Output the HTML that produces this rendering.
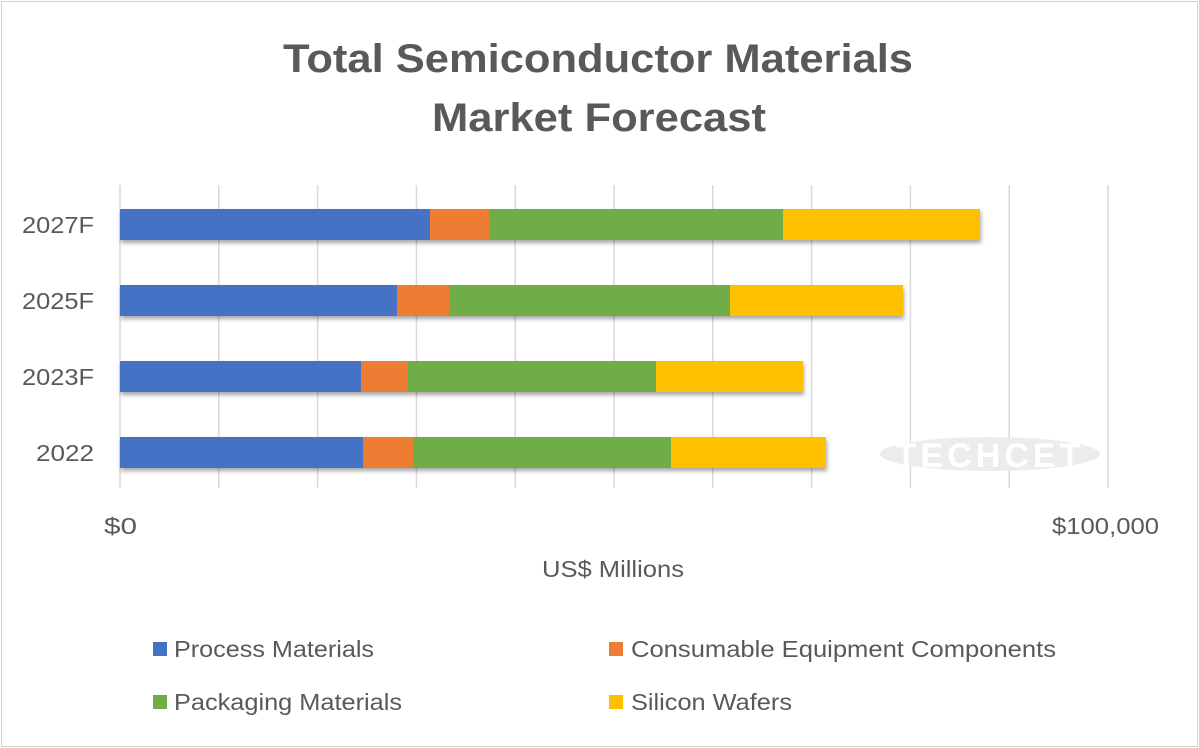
<!DOCTYPE html>
<html><head><meta charset="utf-8"><style>
html,body{margin:0;padding:0;background:#fff;}
svg{display:block;font-family:"Liberation Sans",sans-serif;}
</style></head><body>
<svg width="1199" height="748" viewBox="0 0 1199 748">
<defs>
<filter id="sh" x="-5%" y="-30%" width="110%" height="180%"><feDropShadow dx="1" dy="3" stdDeviation="2" flood-color="#000" flood-opacity="0.35"/></filter>
</defs>
<rect x="1.5" y="1.5" width="1196" height="745" fill="#fff" stroke="#d0d0d0" stroke-width="1"/>
<text x="283" y="72" font-size="40" font-weight="bold" fill="#595959" textLength="630" lengthAdjust="spacingAndGlyphs">Total Semiconductor Materials</text>
<text x="432" y="131" font-size="40" font-weight="bold" fill="#595959" textLength="334" lengthAdjust="spacingAndGlyphs">Market Forecast</text>
<g stroke="#d9d9d9" stroke-width="1.5">
<line x1="120" y1="185" x2="120" y2="488"/><line x1="218.8" y1="185" x2="218.8" y2="488"/><line x1="317.6" y1="185" x2="317.6" y2="488"/><line x1="416.4" y1="185" x2="416.4" y2="488"/><line x1="515.2" y1="185" x2="515.2" y2="488"/><line x1="614" y1="185" x2="614" y2="488"/><line x1="712.8" y1="185" x2="712.8" y2="488"/><line x1="811.6" y1="185" x2="811.6" y2="488"/><line x1="910.4" y1="185" x2="910.4" y2="488"/><line x1="1009.2" y1="185" x2="1009.2" y2="488"/><line x1="1108" y1="185" x2="1108" y2="488"/>
</g>
<ellipse cx="990" cy="454" rx="110" ry="17" fill="#ececec"/>
<text x="990" y="467" text-anchor="middle" font-size="34" font-weight="bold" fill="#fff" letter-spacing="4">TECHCET</text>
<g filter="url(#sh)">
<rect x="120" y="209" width="310" height="31" fill="#4472C4"/><rect x="430" y="209" width="59" height="31" fill="#ED7D31"/><rect x="489" y="209" width="294" height="31" fill="#70AD47"/><rect x="783" y="209" width="197" height="31" fill="#FFC000"/>
<rect x="120" y="285" width="277" height="31" fill="#4472C4"/><rect x="397" y="285" width="52" height="31" fill="#ED7D31"/><rect x="449" y="285" width="281" height="31" fill="#70AD47"/><rect x="730" y="285" width="173" height="31" fill="#FFC000"/>
<rect x="120" y="361" width="241" height="31" fill="#4472C4"/><rect x="361" y="361" width="47" height="31" fill="#ED7D31"/><rect x="408" y="361" width="248" height="31" fill="#70AD47"/><rect x="656" y="361" width="147" height="31" fill="#FFC000"/>
<rect x="120" y="437" width="243" height="31" fill="#4472C4"/><rect x="363" y="437" width="50" height="31" fill="#ED7D31"/><rect x="413" y="437" width="258" height="31" fill="#70AD47"/><rect x="671" y="437" width="155" height="31" fill="#FFC000"/>
</g>
<g font-size="23" fill="#595959">
<text x="22" y="233" textLength="72" lengthAdjust="spacingAndGlyphs">2027F</text>
<text x="22" y="309" textLength="72" lengthAdjust="spacingAndGlyphs">2025F</text>
<text x="22" y="385" textLength="72" lengthAdjust="spacingAndGlyphs">2023F</text>
<text x="36" y="461" textLength="58" lengthAdjust="spacingAndGlyphs">2022</text>
<text x="104" y="534" textLength="33" lengthAdjust="spacingAndGlyphs">$0</text>
<text x="1052" y="534" textLength="107" lengthAdjust="spacingAndGlyphs">$100,000</text>
<text x="542" y="577" textLength="142" lengthAdjust="spacingAndGlyphs">US$ Millions</text>
<rect x="153" y="642" width="14" height="14" fill="#4472C4"/><text x="174" y="657" textLength="200" lengthAdjust="spacingAndGlyphs">Process Materials</text>
<rect x="609" y="642" width="14" height="14" fill="#ED7D31"/><text x="631" y="657" textLength="425" lengthAdjust="spacingAndGlyphs">Consumable Equipment Components</text>
<rect x="153" y="695" width="14" height="14" fill="#70AD47"/><text x="174" y="710" textLength="228" lengthAdjust="spacingAndGlyphs">Packaging Materials</text>
<rect x="609" y="695" width="14" height="14" fill="#FFC000"/><text x="631" y="710" textLength="161" lengthAdjust="spacingAndGlyphs">Silicon Wafers</text>
</g>
</svg>
</body></html>
